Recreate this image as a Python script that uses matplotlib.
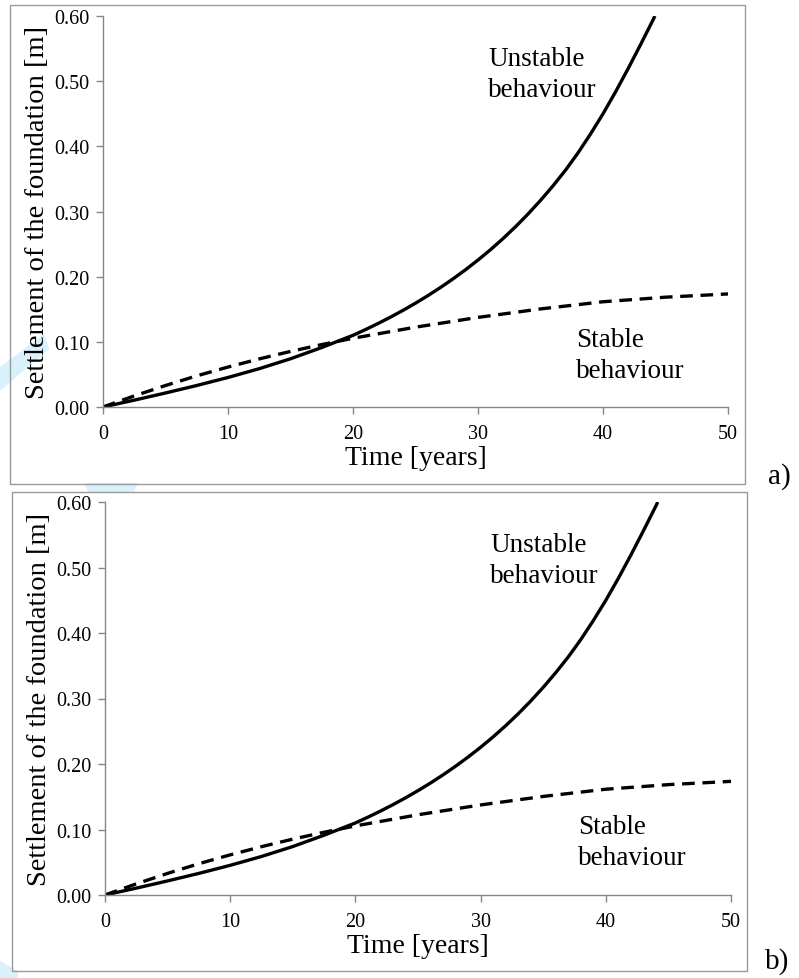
import matplotlib
matplotlib.use("Agg")
import matplotlib.pyplot as plt
import numpy as np
from matplotlib.patches import Rectangle, Polygon

# ---- data ----
t_unstable = [0, 2.5, 5, 7.5, 10, 12.5, 15, 17.5, 20, 21, 22, 23, 24, 25, 26, 27, 28, 29, 30,
              31, 32, 33, 34, 35, 36, 37, 38, 39, 40, 41, 42, 43, 44, 44.15]
s_unstable = [0.000, 0.0105, 0.0215, 0.0330, 0.0453, 0.0588, 0.0740, 0.0913, 0.1100, 0.1188,
              0.1281, 0.1379, 0.1483, 0.1593, 0.1710, 0.1834, 0.1966, 0.2106, 0.2255, 0.2414,
              0.2584, 0.2766, 0.2961, 0.3170, 0.3394, 0.3634, 0.3899, 0.4189, 0.4499, 0.4834,
              0.5189, 0.5559, 0.5939, 0.6000]
t_stable = [0, 2.5, 5, 7.5, 10, 12.5, 15, 17.5, 20, 25, 30, 35, 40, 45, 50]
s_stable = [0.000, 0.0170, 0.0330, 0.0478, 0.0613, 0.0738, 0.0853, 0.0958, 0.1055, 0.1225,
            0.1375, 0.1505, 0.1615, 0.1685, 0.1735]
x_ticks = [0, 10, 20, 30, 40, 50]
y_ticks = [0.00, 0.10, 0.20, 0.30, 0.40, 0.50, 0.60]
panel_labels = ["a)", "b)"]

W, H = 799, 979
fig = plt.figure(figsize=(W / 100, H / 100), dpi=100)
plt.rcParams['font.family'] = ['Liberation Serif', 'DejaVu Serif']

def fx(px):
    return px / W

def fy(py):
    return 1 - py / H

# faint watermark stripes
wm = '#d9f1fb'
for pts in ([(0, 368), (44, 335), (49, 350), (0, 392)],
            [(84, 484), (138, 484), (134, 493), (88, 493)],
            [(0, 962), (18, 972), (18, 979), (0, 979)]):
    fig.patches.append(Polygon([(fx(a), fy(b)) for a, b in pts], closed=True,
                               transform=fig.transFigure, facecolor=wm,
                               edgecolor='none', zorder=-5))

boxes = [(10, 6, 745, 485), (12, 493, 747, 972)]
axes_px = [(103, 17, 728, 408), (105, 503, 731, 896)]
label_pos = [(768, 484), (765, 969)]
unstable_pos = [(488, 97), (490, 583)]
stable_pos = [(576, 378), (578, 865)]

spine_col = '#868686'
for i in range(2):
    x0, y0, x1, y1 = boxes[i]
    fig.patches.append(Rectangle((fx(x0), fy(y1)), fx(x1) - fx(x0), fy(y0) - fy(y1),
                                 transform=fig.transFigure, facecolor='none',
                                 edgecolor='#9a9a9a', linewidth=1.0, zorder=1))
    l, t, r, b = axes_px[i]
    ax = fig.add_axes([fx(l), fy(b), fx(r) - fx(l), fy(t) - fy(b)])
    ax.patch.set_alpha(0)
    ax.plot(t_unstable, s_unstable, color='black', linewidth=2.4,
            solid_joinstyle='round', solid_capstyle='butt')
    ax.plot(t_stable, s_stable, color='black', linewidth=2.4, linestyle=(0, (3.8, 2.3)))
    ax.set_xlim(0, 50)
    ax.set_ylim(0, 0.6)
    ax.set_xticks(x_ticks)
    ax.set_yticks(y_ticks)
    ax.set_xticklabels([str(v) for v in x_ticks])
    ax.set_yticklabels([f"{v:.2f}" for v in y_ticks])
    for s in ['top', 'right']:
        ax.spines[s].set_visible(False)
    for s in ['left', 'bottom']:
        ax.spines[s].set_color(spine_col)
        ax.spines[s].set_linewidth(1.0)
    ax.tick_params(axis='both', direction='out', length=5, width=1.0, color=spine_col,
                   labelsize=14.5, labelcolor='black')
    ax.tick_params(axis='x', pad=7)
    ax.tick_params(axis='y', pad=5)
    ax.set_xlabel("Time [years]", fontsize=20, labelpad=2)
    ax.set_ylabel("Settlement of the foundation [m]", fontsize=20.5, labelpad=3)

    ux, uy = unstable_pos[i]
    fig.text(fx(ux), fy(uy), "Unstable\nbehaviour", fontsize=19.5, ha='left', va='baseline',
             linespacing=1.3, multialignment='left')
    sx, sy = stable_pos[i]
    fig.text(fx(sx), fy(sy), "Stable\nbehaviour", fontsize=19.5, ha='left', va='baseline',
             linespacing=1.3, multialignment='left')
    px, py = label_pos[i]
    fig.text(fx(px), fy(py), panel_labels[i], fontsize=21, ha='left', va='baseline')

fig.savefig("out.png", dpi=100)
